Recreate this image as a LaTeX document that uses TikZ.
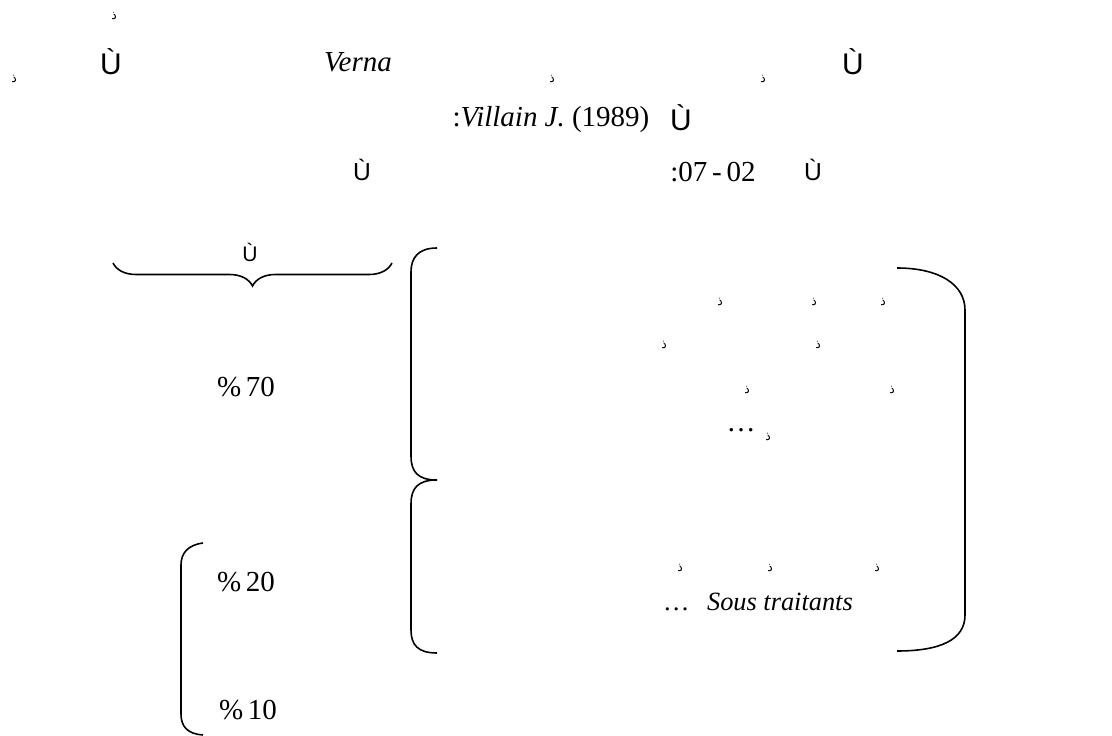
\documentclass[tikz,border=0pt]{standalone}
\usepackage{fontspec}
\setmainfont{Liberation Serif}
\newfontfamily\timesfam{Liberation Serif}
\newfontfamily\sansfam{Liberation Sans}
\newfontfamily\arabicfont[Script=Arabic]{DejaVu Sans}
\usetikzlibrary{decorations.pathreplacing}

\begin{document}
\begin{tikzpicture}[x=0.02cm, y=-0.02cm,
txt/.style={inner sep=0pt, 
font=\timesfam\fontsize{16.5}{20}\selectfont}, 
bigU/.style={inner sep=0pt, 
font=\sansfam\fontsize{17}{20}\selectfont}, 
midU/.style={inner sep=0pt, 
font=\sansfam\fontsize{14}{17}\selectfont}, 
smallU/.style={inner sep=0pt, 
font=\sansfam\fontsize{12}{14}\selectfont}, 
harf/.style={inner sep=0pt, 
font=\arabicfont\fontsize{7}{8}\selectfont}, 
bracket/.style={line width=0.9pt} 
]
\useasboundingbox (0,0) rectangle (1112,736);

% title lines
\node[harf] (m0) at (114,16) {ذ};
\node[harf] (m1) at (14,79) {ذ};
\node[bigU] (u1) at (111,62) {Ù};
\node[txt] (verna) at (358,62) {\textit{Verna}};
\node[harf] (m2) at (552,79) {ذ};
\node[harf] (m3) at (763,79) {ذ};
\node[bigU] (u2) at (853,62) {Ù};

\node[txt] (villain) at (551,120) {:\textit{Villain J.} (1989)};
\node[bigU] (u3) at (681,118) {Ù};

\node[midU] (u4) at (362,170) {Ù};
\node[txt] (fig) at (713,172) {:07\,-\,02};
\node[midU] (u5) at (813,170) {Ù};

% left column
\node[smallU] (ubrace) at (250,252) {Ù};
\draw[bracket, decorate, decoration={brace, amplitude=0.46cm}] (392,263) -- (113,263);
\node[txt] (p70) at (246,387) {\%\,70};
\node[txt] (p20) at (246,582) {\%\,20};
\node[txt] (p10) at (248,710) {\%\,10};
\draw[bracket] (203,543) .. controls (188,545) and (181,553) .. (181,565) -- (181,714)
 .. controls (181,727) and (188,734) .. (203,735);

% big brackets
\draw[bracket] (437,248) .. controls (418,248) and (411,258) .. (411,272) -- (411,456)
 .. controls (411,472) and (418,480) .. (437,480);
\draw[bracket] (437,480) .. controls (418,480) and (411,488) .. (411,504) -- (411,630)
 .. controls (411,645) and (418,653) .. (437,653);
\draw[bracket] (897,268) .. controls (940,268) and (965,285) .. (965,310) -- (965,615)
 .. controls (965,640) and (940,651) .. (897,651);

% upper group
\node[harf] (a1) at (720,302) {ذ};
\node[harf] (a2) at (814,302) {ذ};
\node[harf] (a3) at (883,302) {ذ};
\node[harf] (a4) at (664,345) {ذ};
\node[harf] (a5) at (818,345) {ذ};
\node[harf] (a6) at (747,390) {ذ};
\node[harf] (a7) at (892,390) {ذ};
\node[txt] (dots1) at (741,430) {\dots};
\node[harf] (a8) at (768,437) {ذ};

% lower group
\node[harf] (b1) at (680,568) {ذ};
\node[harf] (b2) at (770,568) {ذ};
\node[harf] (b3) at (877,568) {ذ};
\node[txt, font=\timesfam\fontsize{15}{18}\selectfont] (sous) at (758,602) {\dots\hspace{0.35cm}\textit{Sous traitants}};

\end{tikzpicture}
\end{document}
